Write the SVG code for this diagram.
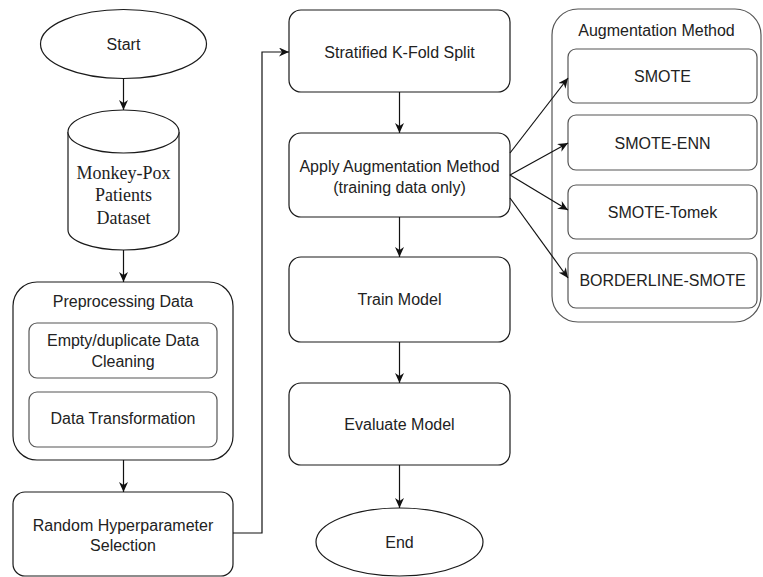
<svg xmlns="http://www.w3.org/2000/svg" width="763" height="577" viewBox="0 0 763 577">
<style>
.n{fill:#fff;stroke:#1a1a1a;stroke-width:1.2}
.in{fill:#fff;stroke:#555;stroke-width:1.2}
.t{font-family:"Liberation Sans",Arial,sans-serif;font-size:16px;fill:#222;text-anchor:middle}
.s{font-family:"Liberation Serif","Times New Roman",serif;font-size:18px;fill:#222;text-anchor:middle}
.c{fill:none;stroke:#111;stroke-width:1.2}
</style>
<defs>
<marker id="a" viewBox="0 0 10 9" refX="10" refY="4.5" markerWidth="10" markerHeight="9" markerUnits="userSpaceOnUse" orient="auto">
<path d="M0,0 L10,4.5 L0,9 L3,4.5 Z" fill="#111"/>
</marker>
</defs>
<g id="start">
<ellipse class="n" cx="123.5" cy="44" rx="83" ry="34.5"/>
<text class="t" x="123.5" y="50">Start</text>
</g>
<g id="dataset">
<path class="n" d="M68,132 A55.5,22 0 0 1 179,132 L179,230 A55.5,20 0 0 1 68,230 Z"/>
<path class="n" fill="none" d="M68,132 A55.5,21 0 0 0 179,132"/>
<text class="s" x="123.5" y="179">Monkey-Pox</text>
<text class="s" x="123.5" y="201">Patients</text>
<text class="s" x="123.5" y="224">Dataset</text>
</g>
<g id="preprocessing">
<rect class="n" x="13" y="282" width="220" height="178" rx="24"/>
<text class="t" x="123" y="307">Preprocessing Data</text>
</g>
<g id="cleaning">
<rect class="in" x="29" y="323" width="188" height="55" rx="8"/>
<text class="t" x="123" y="346">Empty/duplicate Data</text>
<text class="t" x="123" y="367">Cleaning</text>
</g>
<g id="transformation">
<rect class="in" x="29" y="392" width="188" height="55" rx="8"/>
<text class="t" x="123" y="424">Data Transformation</text>
</g>
<g id="random">
<rect class="n" x="13" y="492" width="220" height="84" rx="12"/>
<text class="t" x="123" y="531">Random Hyperparameter</text>
<text class="t" x="123" y="551">Selection</text>
</g>
<g id="kfold">
<rect class="n" x="289" y="10" width="221" height="82" rx="12"/>
<text class="t" x="399.5" y="58">Stratified K-Fold Split</text>
</g>
<g id="apply">
<rect class="n" x="289" y="133" width="221" height="84" rx="12"/>
<text class="t" x="399.5" y="172">Apply Augmentation Method</text>
<text class="t" x="399.5" y="193">(training data only)</text>
</g>
<g id="train">
<rect class="n" x="289" y="257" width="221" height="85" rx="12"/>
<text class="t" x="399.5" y="305">Train Model</text>
</g>
<g id="evaluate">
<rect class="n" x="289" y="383" width="221" height="82" rx="12"/>
<text class="t" x="399.5" y="430">Evaluate Model</text>
</g>
<g id="end">
<ellipse class="n" cx="399.5" cy="542" rx="83.5" ry="34"/>
<text class="t" x="399.5" y="548">End</text>
</g>
<g id="augmentation">
<rect class="in" x="552" y="9" width="209" height="313" rx="26"/>
<text class="t" x="656.5" y="36">Augmentation Method</text>
</g>
<g id="smote">
<rect class="in" x="568" y="49" width="189" height="54" rx="8"/>
<text class="t" x="662.5" y="82">SMOTE</text>
</g>
<g id="smoteenn">
<rect class="in" x="568" y="115" width="189" height="55" rx="8"/>
<text class="t" x="662.5" y="149">SMOTE-ENN</text>
</g>
<g id="smotetomek">
<rect class="in" x="568" y="185" width="189" height="54" rx="8"/>
<text class="t" x="662.5" y="218">SMOTE-Tomek</text>
</g>
<g id="borderline">
<rect class="in" x="568" y="253" width="189" height="55" rx="8"/>
<text class="t" x="662.5" y="286">BORDERLINE-SMOTE</text>
</g>
<g id="connectors">
<line class="c" x1="123.5" y1="79" x2="123.5" y2="110" marker-end="url(#a)"/>
<line class="c" x1="123.5" y1="250" x2="123.5" y2="282" marker-end="url(#a)"/>
<line class="c" x1="123.5" y1="460" x2="123.5" y2="492" marker-end="url(#a)"/>
<polyline class="c" points="233,533 262,533 262,52 289,52" marker-end="url(#a)"/>
<line class="c" x1="399.5" y1="92" x2="399.5" y2="133" marker-end="url(#a)"/>
<line class="c" x1="399.5" y1="217" x2="399.5" y2="257" marker-end="url(#a)"/>
<line class="c" x1="399.5" y1="342" x2="399.5" y2="383" marker-end="url(#a)"/>
<line class="c" x1="399.5" y1="465" x2="399.5" y2="508" marker-end="url(#a)"/>
<line class="c" x1="510" y1="153" x2="568" y2="78" marker-end="url(#a)"/>
<line class="c" x1="510" y1="175" x2="568" y2="143" marker-end="url(#a)"/>
<line class="c" x1="510" y1="175" x2="568" y2="210" marker-end="url(#a)"/>
<line class="c" x1="510" y1="198" x2="568" y2="278" marker-end="url(#a)"/>
</g>
</svg>
